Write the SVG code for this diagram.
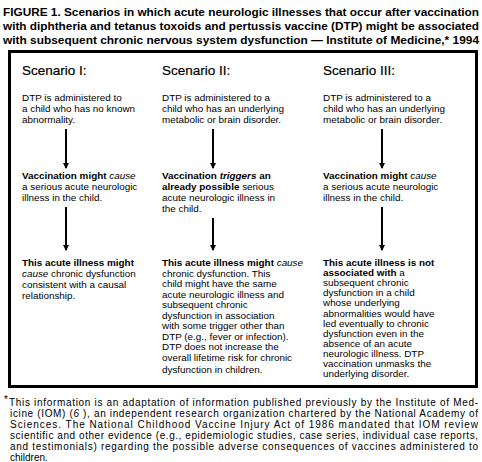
<svg xmlns="http://www.w3.org/2000/svg" width="482" height="462" viewBox="0 0 482 462">
<style>
.t{font-family:"Liberation Sans",Arial,sans-serif;font-size:11.5px;font-weight:bold;fill:#000}
.h{font-family:"Liberation Sans",Arial,sans-serif;font-size:13.5px;fill:#000;stroke:#000;stroke-width:0.2}
.b{font-family:"Liberation Sans",Arial,sans-serif;font-size:9.9px;fill:#000}
.f{font-family:"Liberation Sans",Arial,sans-serif;font-size:10px;fill:#000}
.bo{font-weight:bold}
.it{font-style:italic}
.ar{stroke:#000;stroke-width:2;fill:none}
</style>
<defs>
<marker id="ah" markerWidth="6" markerHeight="6" refX="5" refY="3" orient="auto" markerUnits="userSpaceOnUse" viewBox="0 0 6 6">
<path d="M0,0 L6,3 L0,6 Z" fill="#000"/>
</marker>
</defs>
<rect width="482" height="462" fill="#fff"/>
<g id="title">
<text class="t" x="3" y="16" textLength="476" lengthAdjust="spacingAndGlyphs">FIGURE 1. Scenarios in which acute neurologic illnesses that occur after vaccination</text>
<text class="t" x="3" y="30" textLength="476" lengthAdjust="spacingAndGlyphs">with diphtheria and tetanus toxoids and pertussis vaccine (DTP) might be associated</text>
<text class="t" x="3" y="44" textLength="476" lengthAdjust="spacingAndGlyphs">with subsequent chronic nervous system dysfunction — Institute of Medicine,* 1994</text>
</g>
<g id="frame"><rect x="9.5" y="51.5" width="467" height="335" fill="none" stroke="#000" stroke-width="3"/></g>
<g id="scenario1">
<text class="h" x="22" y="75">Scenario I:</text>
<text class="b" x="22" y="101">DTP is administered to</text>
<text class="b" x="22" y="112">a child who has no known</text>
<text class="b" x="22" y="123">abnormality.</text>
<text class="b" x="22" y="179"><tspan class="bo">Vaccination might </tspan><tspan class="it">cause</tspan></text>
<text class="b" x="22" y="190">a serious acute neurologic</text>
<text class="b" x="22" y="201">illness in the child.</text>
<text class="b" x="22" y="266"><tspan class="bo">This acute illness might</tspan></text>
<text class="b" x="22" y="277"><tspan class="it">cause</tspan> chronic dysfunction</text>
<text class="b" x="22" y="288">consistent with a causal</text>
<text class="b" x="22" y="299">relationship.</text>
</g>
<g id="scenario2">
<text class="h" x="162" y="75">Scenario II:</text>
<text class="b" x="162" y="101">DTP is administered to a</text>
<text class="b" x="162" y="112">child who has an underlying</text>
<text class="b" x="162" y="123">metabolic or brain disorder.</text>
<text class="b" x="162" y="179"><tspan class="bo">Vaccination </tspan><tspan class="bo it">triggers</tspan><tspan class="bo"> an</tspan></text>
<text class="b" x="162" y="190"><tspan class="bo">already possible</tspan> serious</text>
<text class="b" x="162" y="201">acute neurologic illness in</text>
<text class="b" x="162" y="212">the child.</text>
<text class="b" x="162" y="266"><tspan class="bo">This acute illness might </tspan><tspan class="it">cause</tspan></text>
<text class="b" x="162" y="276.5">chronic dysfunction. This</text>
<text class="b" x="162" y="287">child might have the same</text>
<text class="b" x="162" y="297.5">acute neurologic illness and</text>
<text class="b" x="162" y="308">subsequent chronic</text>
<text class="b" x="162" y="318.5">dysfunction in association</text>
<text class="b" x="162" y="329">with some trigger other than</text>
<text class="b" x="162" y="339.5">DTP (e.g., fever or infection).</text>
<text class="b" x="162" y="350">DTP does not increase the</text>
<text class="b" x="162" y="360.5">overall lifetime risk for chronic</text>
<text class="b" x="162" y="373">dysfunction in children.</text>
</g>
<g id="scenario3">
<text class="h" x="323" y="75">Scenario III:</text>
<text class="b" x="323" y="101">DTP is administered to a</text>
<text class="b" x="323" y="112">child who has an underlying</text>
<text class="b" x="323" y="123">metabolic or brain disorder.</text>
<text class="b" x="323" y="179"><tspan class="bo">Vaccination might </tspan><tspan class="it">cause</tspan></text>
<text class="b" x="323" y="190">a serious acute neurologic</text>
<text class="b" x="323" y="201">illness in the child.</text>
<text class="b" x="323" y="266"><tspan class="bo">This acute illness is not</tspan></text>
<text class="b" x="323" y="276.1"><tspan class="bo">associated with</tspan> a</text>
<text class="b" x="323" y="286.2">subsequent chronic</text>
<text class="b" x="323" y="296.3">dysfunction in a child</text>
<text class="b" x="323" y="306.4">whose underlying</text>
<text class="b" x="323" y="316.5">abnormalities would have</text>
<text class="b" x="323" y="326.6">led eventually to chronic</text>
<text class="b" x="323" y="336.7">dysfunction even in the</text>
<text class="b" x="323" y="346.8">absence of an acute</text>
<text class="b" x="323" y="356.9">neurologic illness. DTP</text>
<text class="b" x="323" y="367">vaccination unmasks the</text>
<text class="b" x="323" y="377.1">underlying disorder.</text>
</g>
<g id="connectors">
<line class="ar" x1="66" y1="129" x2="66" y2="168" marker-end="url(#ah)"/>
<line class="ar" x1="66" y1="207" x2="66" y2="250" marker-end="url(#ah)"/>
<line class="ar" x1="213" y1="129" x2="213" y2="168" marker-end="url(#ah)"/>
<line class="ar" x1="213" y1="218" x2="213" y2="250" marker-end="url(#ah)"/>
<line class="ar" x1="382" y1="129" x2="382" y2="168" marker-end="url(#ah)"/>
<line class="ar" x1="382" y1="207" x2="382" y2="250" marker-end="url(#ah)"/>
</g>
<g id="footnote">
<text class="f" x="4" y="403" font-size="8">*</text>
<text class="f" x="9" y="406" textLength="469" lengthAdjust="spacing">This information is an adaptation of information published previously by the Institute of Med-</text>
<text class="f" x="10" y="417" textLength="468" lengthAdjust="spacing">icine (IOM) (<tspan class="it">6</tspan> ), an independent research organization chartered by the National Academy of</text>
<text class="f" x="10" y="428" textLength="468" lengthAdjust="spacing">Sciences. The National Childhood Vaccine Injury Act of 1986 mandated that IOM review</text>
<text class="f" x="10" y="439" textLength="468" lengthAdjust="spacing">scientific and other evidence (e.g., epidemiologic studies, case series, individual case reports,</text>
<text class="f" x="10" y="450" textLength="468" lengthAdjust="spacing">and testimonials) regarding the possible adverse consequences of vaccines administered to</text>
<text class="f" x="10" y="461">children.</text>
</g>
</svg>
